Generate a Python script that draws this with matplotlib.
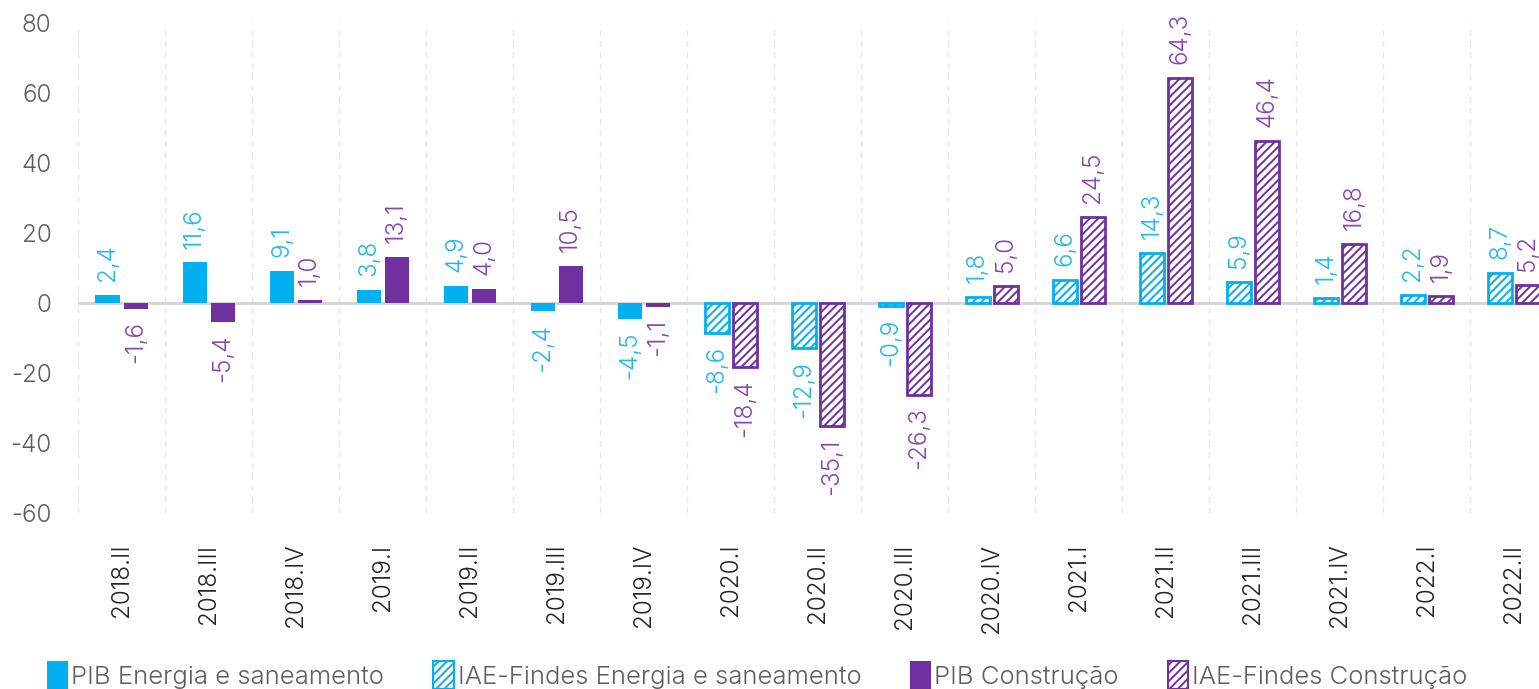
import matplotlib
matplotlib.use("Agg")
import matplotlib.pyplot as plt
from matplotlib.patches import Patch
import numpy as np

categories = ["2018.II", "2018.III", "2018.IV", "2019.I", "2019.II", "2019.III", "2019.IV",
              "2020.I", "2020.II", "2020.III", "2020.IV", "2021.I", "2021.II", "2021.III",
              "2021.IV", "2022.I", "2022.II"]
energia = [2.4, 11.6, 9.1, 3.8, 4.9, -2.4, -4.5, -8.6, -12.9, -0.9, 1.8, 6.6, 14.3, 5.9, 1.4, 2.2, 8.7]
construcao = [-1.6, -5.4, 1.0, 13.1, 4.0, 10.5, -1.1, -18.4, -35.1, -26.3, 5.0, 24.5, 64.3, 46.4, 16.8, 1.9, 5.2]
# source of each quarter: PIB (solid) or IAE-Findes (hatched)
fonte = ["PIB"] * 7 + ["IAE"] * 10
legend_labels = ["PIB Energia e saneamento", "IAE-Findes Energia e saneamento",
                 "PIB Construção", "IAE-Findes Construção"]
yticks = [-60, -40, -20, 0, 20, 40, 60, 80]

CYAN = "#00B0F0"
PURPLE = "#7030A0"
CYAN_TXT = "#20B8F0"
PURPLE_TXT = "#8545B5"
GRAY = "#605E5C"

plt.rcParams['font.family'] = ['Inter', 'DejaVu Sans']
plt.rcParams['font.weight'] = 300
plt.rcParams['hatch.linewidth'] = 1.4

FS = 17.5

fig = plt.figure(figsize=(15.39, 6.89), dpi=100)
ax = fig.add_axes([78/1539, 1 - 513/689, 1461/1539, 490/689])

x = np.arange(len(categories))
w = 0.276
off = 0.161

for i, (e, c, f) in enumerate(zip(energia, construcao, fonte)):
    for val, col, sgn in ((e, CYAN, -1), (c, PURPLE, 1)):
        xc = x[i] + sgn * off
        if f == "PIB":
            ax.bar(xc, val, width=w, color=col, edgecolor=col, linewidth=0, zorder=3)
        else:
            ax.bar(xc, val, width=w, facecolor="white", edgecolor=col, hatch="////",
                   linewidth=2, zorder=3)

for i in range(len(categories)):
    for val, col, sgn in ((energia[i], CYAN_TXT, -1), (construcao[i], PURPLE_TXT, 1)):
        xc = x[i] + sgn * off
        s = f"{val:.1f}".replace(".", ",")
        if val >= 0:
            ax.annotate(s, (xc, val), xytext=(0, 10), textcoords="offset points",
                        rotation=90, ha="center", va="bottom", color=col, fontsize=FS,
                        fontweight=300, zorder=5)
        else:
            ax.annotate(s, (xc, val), xytext=(0, -9), textcoords="offset points",
                        rotation=90, ha="center", va="top", color=col, fontsize=FS,
                        fontweight=300, zorder=5)

ax.axhline(0, color="#d4d4d4", linewidth=2, zorder=2)
for b in np.arange(-0.5, len(categories), 1.0):
    ax.axvline(b, color="#e6e6e6", linewidth=1, linestyle=(0, (4, 4)), zorder=1)

ax.set_xlim(-0.5, 16.29)
ax.set_ylim(-60, 80)
ax.set_yticks(yticks)
ax.set_yticklabels([str(v) for v in yticks])
ax.set_xticks(x)
ax.set_xticklabels(categories, rotation=90)
ax.tick_params(axis="y", length=0, pad=19, labelsize=FS, labelcolor=GRAY)
ax.tick_params(axis="x", length=0, pad=22, labelsize=FS, labelcolor="#252423")
for sp in ax.spines.values():
    sp.set_visible(False)

handles = [
    Patch(facecolor=CYAN, edgecolor=CYAN, linewidth=0),
    Patch(facecolor="white", edgecolor=CYAN, hatch="////", linewidth=1.5),
    Patch(facecolor=PURPLE, edgecolor=PURPLE, linewidth=0),
    Patch(facecolor="white", edgecolor=PURPLE, hatch="////", linewidth=1.5),
]
LFS = 18.5
leg = fig.legend(handles, legend_labels, loc="lower left", bbox_to_anchor=(47/1539, 0.0),
                 ncol=4, frameon=False, fontsize=LFS, handlelength=0.8, handleheight=1.3,
                 handletextpad=0.15, columnspacing=1.9, borderpad=0, borderaxespad=0)
for t in leg.get_texts():
    t.set_color(GRAY)

fig.savefig("out.png", dpi=100)
